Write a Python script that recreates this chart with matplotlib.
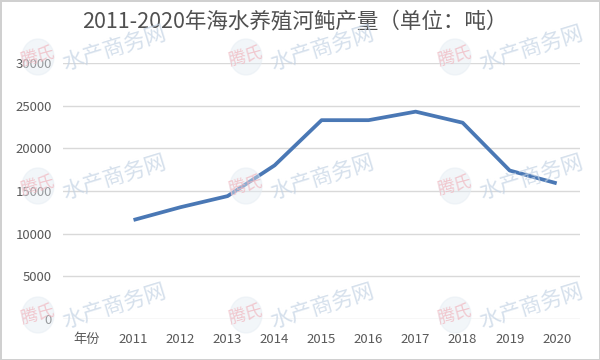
import matplotlib
matplotlib.use('Agg')
import matplotlib.pyplot as plt
from matplotlib.patches import Ellipse

plt.rcParams['font.family'] = ['Noto Sans CJK SC', 'DejaVu Sans']

categories = ['年份', '2011', '2012', '2013', '2014', '2015', '2016', '2017', '2018', '2019', '2020']
years = ['2011', '2012', '2013', '2014', '2015', '2016', '2017', '2018', '2019', '2020']
output = [11600, 13100, 14400, 18000, 23300, 23300, 24300, 23000, 17400, 15900]
yticks = [0, 5000, 10000, 15000, 20000, 25000, 30000]

fig = plt.figure(figsize=(6, 3.6), dpi=100)
fig.patch.set_facecolor('white')
fig.patch.set_edgecolor('#d0d0d0')
fig.patch.set_linewidth(2)

ax = fig.add_axes([0.105, 0.114, 0.862, 0.711])
x = [categories.index(y) for y in years]
ax.plot(x, output, color='#4a78b5', linewidth=2.7, solid_capstyle='butt', zorder=3)

ax.set_xlim(-0.5, len(categories) - 0.5)
ax.set_ylim(0, 30000)
ax.set_xticks(range(len(categories)))
ax.set_xticklabels(categories)
ax.set_yticks(yticks)
ax.set_yticklabels([str(v) for v in yticks])
ax.grid(axis='y', color='#d9d9d9', linewidth=1)
ax.set_axisbelow(True)
for s in ax.spines.values():
    s.set_visible(False)
ax.tick_params(length=0, labelsize=9.5, labelcolor='#595959')
ax.tick_params(axis='x', pad=10)
ax.tick_params(axis='y', pad=8)

fig.text(0.492, 0.938, '2011-2020年海水养殖河鲀产量（单位：吨）', ha='center', va='center',
         fontsize=15.5, color='#505050')

# watermarks
for cy in [57, 186, 315]:
    for cx in [38, 246, 455]:
        fig.patches.append(Ellipse((cx / 600, 1 - cy / 360), 32 / 600, 36 / 360,
                                   transform=fig.transFigure, color='#e4ecf3', alpha=0.45, zorder=5))
        fig.text(cx / 600, 1 - cy / 360, '腾氏', ha='center', va='center', fontsize=12.5,
                 color='#f0b8c0', alpha=0.75, rotation=15, zorder=6)
        fig.text((cx + 76) / 600, 1 - (cy - 9) / 360, '水产商务网', ha='center', va='center',
                 fontsize=15.5, color='#c4d3e4', alpha=0.7, rotation=17, zorder=6)

fig.savefig('out.png', dpi=100)
